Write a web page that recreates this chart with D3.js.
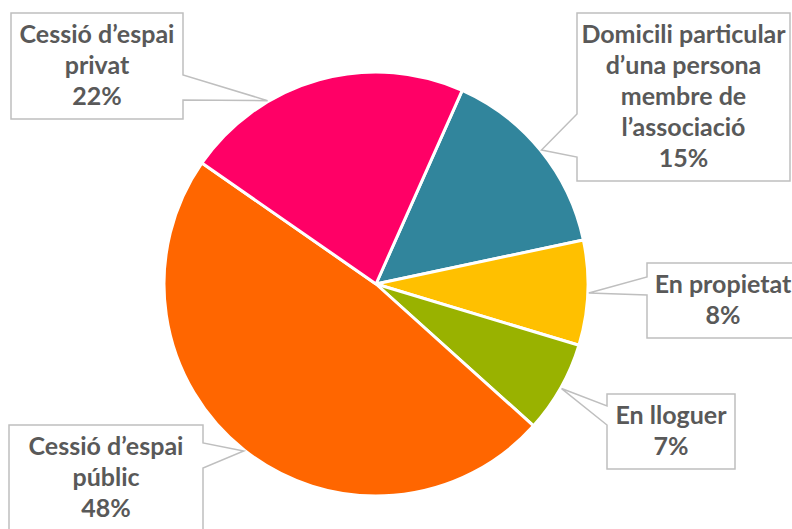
<!DOCTYPE html>
<html>
<head>
<meta charset="utf-8">
<script src="https://cdn.jsdelivr.net/npm/d3@7"></script>
<style>
  html, body { margin: 0; padding: 0; background: #fff; }
  #chart { width: 792px; height: 529px; overflow: hidden; }
</style>
</head>
<body>
<div id="chart"></div>
<script>
// Data
const categories = ["Domicili particular d’una persona membre de l’associació", "En propietat", "En lloguer", "Cessió d’espai públic", "Cessió d’espai privat"];
const values = [15, 8, 7, 48, 22];
const labelLines = [
    ["Domicili particular", "d’una persona", "membre de", "l’associació"],
    ["En propietat"],
    ["En lloguer"],
    ["Cessió d’espai", "públic"],
    ["Cessió d’espai", "privat"]
];
const colors = ["#31859C", "#FFC000", "#99B200", "#FF6600", "#FF0066"];

// Callout boxes (layout only)
const callouts = [
    { x: 577, y: 13, w: 213, side: "left", b0: 114, b1: 157, off: 0 },
    { x: 647, y: 263, w: 152, side: "left", b0: 277, b1: 295, off: 0 },
    { x: 607, y: 394, w: 128, side: "left", b0: 406, b1: 425, off: 0 },
    { x: 9, y: 425, w: 194, side: "right", b0: 443, b1: 468, off: 0 },
    { x: 11, y: 13, w: 172, side: "right", b0: 75, b1: 100, off: -15 }
];

const width = 792, height = 529;
const cx = 376, cy = 284, radius = 212;
const lineH = 31;

const svg = d3.select("#chart").append("svg")
    .attr("width", width).attr("height", height);

const pie = d3.pie().sort(null).value(d => d)
    .startAngle(24 * Math.PI / 180).endAngle(24 * Math.PI / 180 + 2 * Math.PI);
const arcs = pie(values);
const arc = d3.arc().innerRadius(0).outerRadius(radius);

const g = svg.append("g").attr("transform", `translate(${cx},${cy})`);
g.selectAll("path").data(arcs).join("path")
    .attr("d", arc)
    .attr("fill", (d, i) => colors[i])
    .attr("stroke", "#fff").attr("stroke-width", 3).attr("stroke-linejoin", "round");

// Callouts
const lab = svg.append("g");
arcs.forEach((d, i) => {
    const c = callouts[i];
    const lines = labelLines[i].concat([values[i] + "%"]);
    const h = lines.length * lineH + 13;
    const a = (d.startAngle + d.endAngle) / 2 + c.off * Math.PI / 180;
    const tx = cx + Math.sin(a) * (radius + 1), ty = cy - Math.cos(a) * (radius + 1);
    const x0 = c.x, x1 = c.x + c.w, y0 = c.y, y1 = c.y + h;
    let p;
    if (c.side === "left") {
        p = `M${x0},${y0} L${x1},${y0} L${x1},${y1} L${x0},${y1} L${x0},${c.b1} L${tx},${ty} L${x0},${c.b0} Z`;
    } else {
        p = `M${x0},${y0} L${x1},${y0} L${x1},${c.b0} L${tx},${ty} L${x1},${c.b1} L${x1},${y1} L${x0},${y1} Z`;
    }
    lab.append("path").attr("d", p)
        .attr("fill", "#fff").attr("stroke", "#BFBFBF").attr("stroke-width", 1.5);

    lab.append("g").selectAll("text").data(lines).join("text")
        .attr("x", (x0 + x1) / 2)
        .attr("y", (t, j) => y0 + 30 + j * lineH)
        .attr("text-anchor", "middle")
        .style("font-family", "Lato, 'Open Sans', sans-serif")
        .style("font-weight", "bold").style("font-size", "25px").style("fill", "#595959")
        .text(t => t);
});
</script>
</body>
</html>
